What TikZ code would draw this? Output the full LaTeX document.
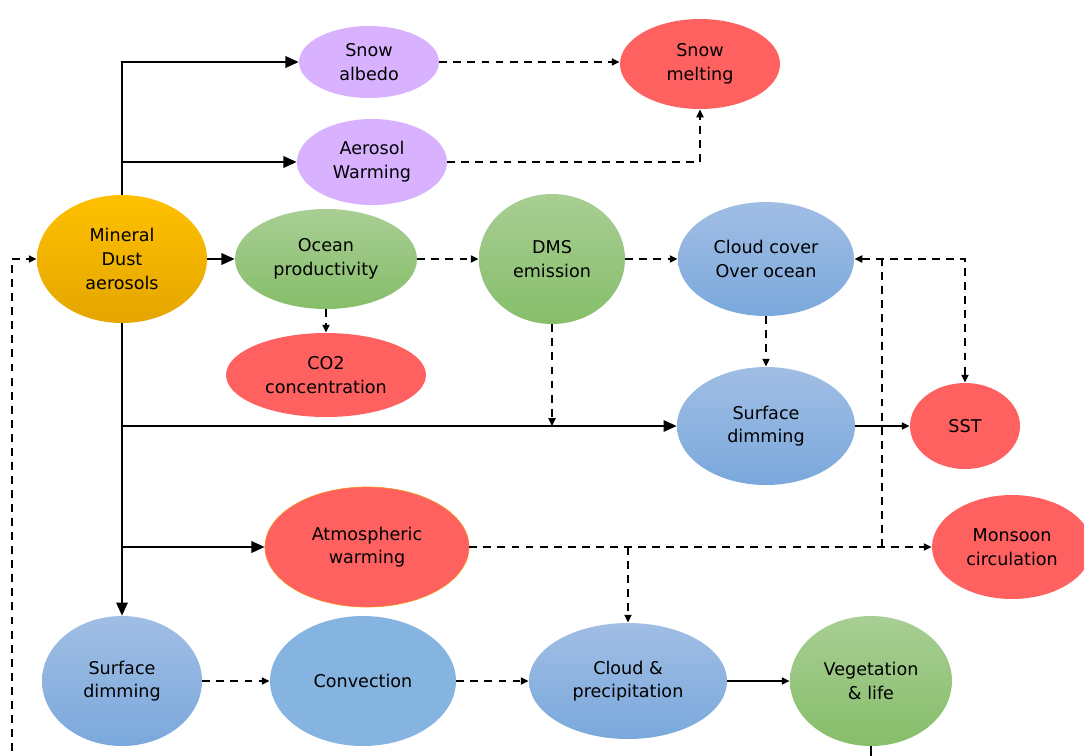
\documentclass[tikz,border=0pt]{standalone}
\usepackage{fontspec}
\setmainfont{DejaVu Sans}
\usepackage{tikz}
\usetikzlibrary{shapes.geometric,arrows.meta}

\definecolor{lilac}{RGB}{217,178,255}
\definecolor{coral}{RGB}{255,97,97}
\definecolor{rim}{RGB}{245,140,30}
\definecolor{goldtop}{RGB}{255,192,0}
\definecolor{goldbot}{RGB}{228,166,0}
\definecolor{greentop}{RGB}{168,206,148}
\definecolor{greenbot}{RGB}{134,190,106}
\definecolor{bluetop}{RGB}{161,190,228}
\definecolor{bluebot}{RGB}{122,168,220}
\definecolor{bluemid}{RGB}{134,180,224}

\tikzset{
  bubble/.style={ellipse, inner sep=0pt, align=center, font=\fontsize{10}{13.5}\selectfont},
  lilacbub/.style={bubble, fill=lilac},
  redbub/.style={bubble, fill=coral},
  goldbub/.style={bubble, top color=goldtop, bottom color=goldbot},
  greenbub/.style={bubble, top color=greentop, bottom color=greenbot},
  bluebub/.style={bubble, top color=bluetop, bottom color=bluebot},
  flow/.style={line width=1.1pt, -{Triangle[length=7.5pt,width=6.5pt]}},
  thin/.style={line width=1.1pt, -{Triangle[length=4.5pt,width=4pt]}},
  dashline/.style={line width=1.1pt, dash pattern=on 4.5pt off 3.5pt},
  link/.style={dashline, -{Triangle[length=4.5pt,width=4pt]}},
}

\begin{document}
\begin{tikzpicture}[x=0.02cm, y=-0.02cm]
\fill[white] (0,0) rectangle (1084,755);
\useasboundingbox (0,0) rectangle (1084,755);

\node[goldbub, minimum width=3.4cm, minimum height=2.56cm] (dust) at (122,259) {Mineral\\Dust\\aerosols};
\node[lilacbub, minimum width=2.8cm, minimum height=1.44cm] (albedo) at (369,62) {Snow\\albedo};
\node[lilacbub, minimum width=3.0cm, minimum height=1.72cm] (aerowarm) at (372,162) {Aerosol\\Warming};
\node[redbub, minimum width=3.2cm, minimum height=1.8cm] (melting) at (700,64) {Snow\\melting};
\node[greenbub, minimum width=3.64cm, minimum height=2.0cm] (ocean) at (326,259) {Ocean\\productivity};
\node[greenbub, minimum width=2.92cm, minimum height=2.6cm] (dms) at (552,259) {DMS\\emission};
\node[bluebub, minimum width=3.52cm, minimum height=2.28cm] (cloudcov) at (766,259) {Cloud cover\\Over ocean};
\node[redbub, minimum width=4.0cm, minimum height=1.68cm] (co2) at (326,375) {CO2\\concentration};
\node[bluebub, minimum width=3.56cm, minimum height=2.36cm] (dimmid) at (766,426) {Surface\\dimming};
\node[redbub, minimum width=2.2cm, minimum height=1.72cm] (sst) at (965,426) {SST};
\node[redbub, draw=rim, minimum width=4.08cm, minimum height=2.4cm] (atmwarm) at (367,547) {Atmospheric\\warming};
\node[redbub, minimum width=3.2cm, minimum height=2.08cm] (monsoon) at (1012,547) {Monsoon\\circulation};
\node[bluebub, minimum width=3.2cm, minimum height=2.6cm] (surfdim) at (122,681) {Surface\\dimming};
\node[bubble, fill=bluemid, minimum width=3.72cm, minimum height=2.6cm] (convection) at (363,681) {Convection};
\node[bluebub, minimum width=3.96cm, minimum height=2.32cm] (cloudprec) at (628,681) {Cloud \&\\precipitation};
\node[greenbub, minimum width=3.24cm, minimum height=2.6cm] (vegetation) at (871,681) {Vegetation\\\& life};

\coordinate (fork) at (882,547);
\coordinate (outveg) at (871,765);
\coordinate (outloop) at (12,765);

\draw[flow] (dust.north) |- (albedo.west);
\draw[flow] (dust.north |- aerowarm.west) -- (aerowarm.west);
\draw[flow] (dust.east) -- (ocean.west);
\draw[flow] (dust.south) -- (surfdim.north);
\draw[flow] (dust.south |- dimmid.west) -- (dimmid.west);
\draw[flow] (dust.south |- atmwarm.west) -- (atmwarm.west);
\draw[link] (albedo.east) -- (albedo.east -| melting.west);
\draw[link] (aerowarm.east) -| (melting.south);
\draw[link] (ocean.east) -- (dms.west);
\draw[link] (dms.east) -- (cloudcov.west);
\draw[link] (ocean.south) -- (co2.north);
\draw[link] (cloudcov.south) -- (dimmid.north);
\draw[link] (dms.south) -- (dms.south |- dimmid.west);
\draw[thin] (dimmid.east) -- (sst.west);
\draw[dashline, {Triangle[length=4.5pt,width=4pt]}-{Triangle[length=4.5pt,width=4pt]}] (cloudcov.east) -| (sst.north);
\draw[link] (atmwarm.east) -- (monsoon.west);
\draw[dashline] (fork) -- (fork |- cloudcov.east);
\draw[link] (cloudprec.north |- atmwarm.east) -- (cloudprec.north);
\draw[link] (surfdim.east) -- (convection.west);
\draw[link] (convection.east) -- (cloudprec.west);
\draw[thin] (cloudprec.east) -- (vegetation.west);
\draw[line width=1.1pt] (vegetation.south) -- (outveg);
\draw[link] (outloop) |- (dust.west);
\end{tikzpicture}
\end{document}
